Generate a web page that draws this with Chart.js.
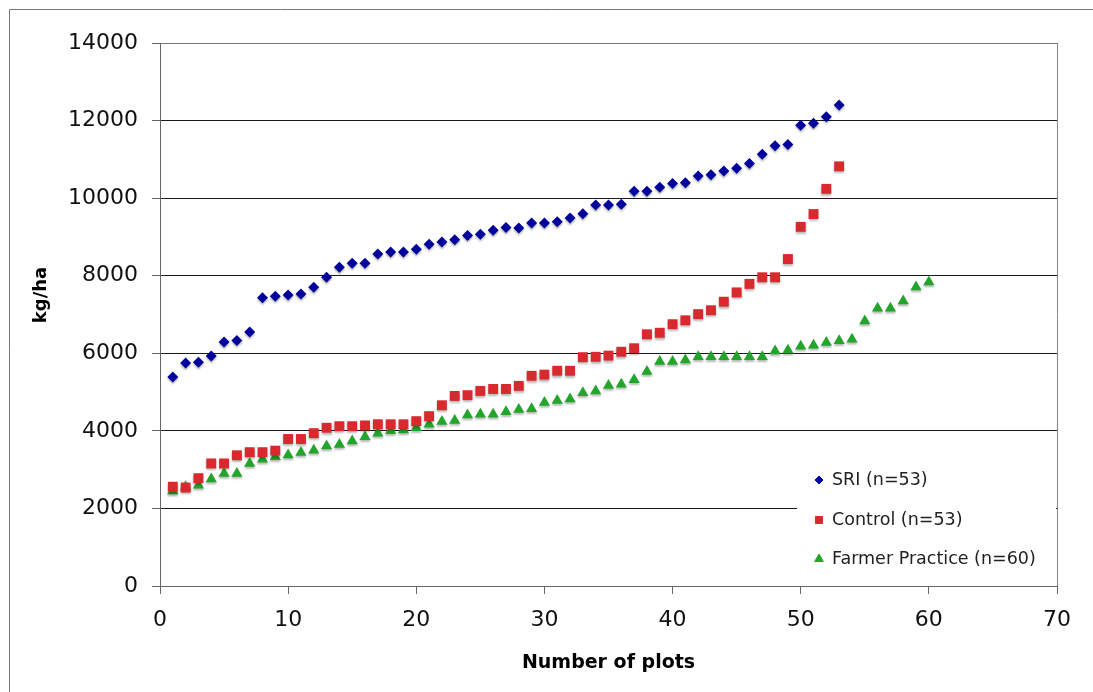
<!DOCTYPE html>
<html>
<head>
<meta charset="utf-8">
<script src="https://cdn.jsdelivr.net/npm/chart.js@4.4.1/dist/chart.umd.min.js"></script>
<style>
  html, body { margin: 0; padding: 0; background: #fff; }
  canvas { display: block; }
</style>
</head>
<body>
<canvas id="chart" width="1093" height="692"></canvas>
<script>
// plot numbers (x positions) shared by all series
const plotNumbers = [
    1, 2, 3, 4, 5, 6, 7, 8, 9, 10, 11, 12, 13, 14, 15, 16, 17, 18, 19, 20,
    21, 22, 23, 24, 25, 26, 27, 28, 29, 30, 31, 32, 33, 34, 35, 36, 37, 38, 39, 40,
    41, 42, 43, 44, 45, 46, 47, 48, 49, 50, 51, 52, 53, 54, 55, 56, 57, 58, 59, 60
];

// yields in kg/ha, sorted ascending per treatment
const sriYield = [
    5390, 5750, 5770, 5930, 6290, 6330, 6550, 7430, 7470, 7500,
    7530, 7700, 7960, 8220, 8320, 8320, 8560, 8610, 8610, 8680,
    8810, 8870, 8930, 9040, 9070, 9170, 9240, 9230, 9360, 9360,
    9390, 9490, 9600, 9820, 9820, 9840, 10180, 10180, 10280, 10380,
    10400, 10570, 10600, 10700, 10770, 10890, 11130, 11350, 11380, 11880,
    11930, 12100, 12400
];
const controlYield = [
    2560, 2540, 2780, 3160, 3160, 3370, 3450, 3450, 3490, 3790,
    3790, 3940, 4080, 4120, 4120, 4140, 4170, 4170, 4170, 4250,
    4380, 4660, 4900, 4920, 5030, 5080, 5080, 5160, 5420, 5450,
    5550, 5550, 5900, 5910, 5940, 6040, 6130, 6490, 6530, 6750,
    6850, 7010, 7110, 7330, 7570, 7790, 7960, 7960, 8430, 9260,
    9590, 10240, 10820
];
const farmerYield = [
    2450, 2560, 2600, 2760, 2900, 2900, 3160, 3270, 3330, 3380,
    3440, 3500, 3610, 3650, 3740, 3850, 3940, 4000, 4020, 4080,
    4170, 4240, 4270, 4410, 4430, 4430, 4490, 4550, 4570, 4730,
    4780, 4820, 4980, 5030, 5170, 5200, 5320, 5530, 5790, 5790,
    5830, 5910, 5910, 5910, 5910, 5910, 5910, 6060, 6080, 6180,
    6210, 6280, 6320, 6360, 6830, 7160, 7160, 7350, 7710, 7840
];

const seriesLabels = ["SRI (n=53)", "Control (n=53)", "Farmer Practice (n=60)"];
const yTicks = [0, 2000, 4000, 6000, 8000, 10000, 12000, 14000];
const xTicks = [0, 10, 20, 30, 40, 50, 60, 70];

const FONT = "'DejaVu Sans', Verdana, sans-serif";

// white page + the thin frame that is cut off at the right/bottom
const pageFrame = {
    id: "pageFrame",
    beforeDraw(chart) {
        const ctx = chart.ctx;
        ctx.save();
        ctx.fillStyle = "#fff";
        ctx.fillRect(0, 0, chart.width, chart.height);
        ctx.strokeStyle = "#777";
        ctx.lineWidth = 1;
        ctx.beginPath();
        ctx.moveTo(9.5, chart.height);
        ctx.lineTo(9.5, 9.5);
        ctx.lineTo(chart.width, 9.5);
        ctx.stroke();
        ctx.restore();
    }
};

// soft drop shadow under the markers
const markerShadow = {
    id: "markerShadow",
    beforeDatasetsDraw(chart) {
        const ctx = chart.ctx;
        ctx.save();
        ctx.shadowColor = "rgba(0,0,0,0.28)";
        ctx.shadowOffsetY = 2;
        ctx.shadowBlur = 2;
    },
    afterDatasetsDraw(chart) {
        chart.ctx.restore();
    }
};

// y title sits a bit above the middle of the axis
const yTitle = {
    id: "yTitle",
    afterDraw(chart) {
        const ctx = chart.ctx;
        ctx.save();
        ctx.translate(41, 295);
        ctx.rotate(-Math.PI / 2);
        ctx.font = "bold 18px " + FONT;
        ctx.fillStyle = "#000";
        ctx.textAlign = "center";
        ctx.textBaseline = "middle";
        ctx.fillText("kg/ha", 0, 0);
        ctx.restore();
    }
};

// legend boxed inside the plot, lower right
const insideLegend = {
    id: "insideLegend",
    afterDraw(chart) {
        const ctx = chart.ctx;
        const area = chart.chartArea;
        const left = area.right - 260;
        const top = area.bottom - 128;
        ctx.save();
        ctx.fillStyle = "#fff";
        ctx.fillRect(left, top, 259, 127);
        ctx.font = "17.5px " + FONT;
        ctx.textBaseline = "middle";
        ctx.textAlign = "left";
        const rows = [480, 520, 559];
        const sizes = [4, 5, 5];
        chart.data.datasets.forEach((ds, i) => {
            ctx.fillStyle = ds.backgroundColor;
            ctx.strokeStyle = ds.borderColor;
            ctx.lineWidth = 1;
            Chart.helpers.drawPoint(ctx, { pointStyle: ds.pointStyle, radius: sizes[i], rotation: 0, borderWidth: 1 }, left + 22, rows[i]);
            ctx.fillStyle = "#222";
            ctx.fillText(ds.label, left + 35, rows[i]);
        });
        ctx.restore();
    }
};

new Chart(document.getElementById("chart"), {
    type: "line",
    data: {
        labels: plotNumbers,
        datasets: [
            {
                label: seriesLabels[0],
                data: sriYield,
                showLine: false,
                pointStyle: "rectRot",
                pointRadius: 5.5,
                backgroundColor: "#00009c",
                borderColor: "#00009c",
                borderWidth: 0
            },
            {
                label: seriesLabels[1],
                data: controlYield,
                showLine: false,
                pointStyle: "rect",
                pointRadius: 7,
                backgroundColor: "#d9282e",
                borderColor: "#d9282e",
                borderWidth: 0
            },
            {
                label: seriesLabels[2],
                data: farmerYield,
                showLine: false,
                pointStyle: "triangle",
                pointRadius: 6.5,
                backgroundColor: "#22a52a",
                borderColor: "#22a52a",
                borderWidth: 0
            }
        ]
    },
    options: {
        responsive: false,
        animation: false,
        devicePixelRatio: 1,
        layout: { padding: { top: 43, right: 36, left: 0, bottom: 0 } },
        plugins: {
            legend: { display: false },
            tooltip: { enabled: false }
        },
        scales: {
            x: {
                type: "linear",
                min: 0,
                max: 70,
                afterFit: scale => { scale.height = 106; },
                afterBuildTicks: scale => { scale.ticks = xTicks.map(v => ({ value: v })); },
                border: { color: "#666", width: 1 },
                grid: {
                    // only the right-hand edge is drawn, as a plot frame
                    color: c => (c.tick && c.tick.value === 70 ? "#888" : "rgba(0,0,0,0)"),
                    tickColor: "#666",
                    tickLength: 8
                },
                ticks: {
                    font: { family: FONT, size: 22 },
                    color: "#111",
                    padding: 13,
                    maxRotation: 0,
                    callback: v => String(v)
                },
                title: {
                    display: true,
                    text: "Number of plots",
                    font: { family: FONT, size: 19, weight: "bold" },
                    color: "#000",
                    padding: { top: 0, bottom: 18 }
                }
            },
            y: {
                min: 0,
                max: 14000,
                afterFit: scale => { scale.width = 160; },
                afterBuildTicks: scale => { scale.ticks = yTicks.map(v => ({ value: v })); },
                border: { color: "#666", width: 1 },
                grid: {
                    color: c => (c.tick && c.tick.value === 14000 ? "#777" : "#1a1a1a"),
                    tickColor: "#666",
                    tickLength: 8
                },
                ticks: {
                    font: { family: FONT, size: 22 },
                    color: "#111",
                    padding: 14,
                    callback: v => String(v)
                }
            }
        }
    },
    plugins: [pageFrame, markerShadow, insideLegend, yTitle]
});
</script>
</body>
</html>
